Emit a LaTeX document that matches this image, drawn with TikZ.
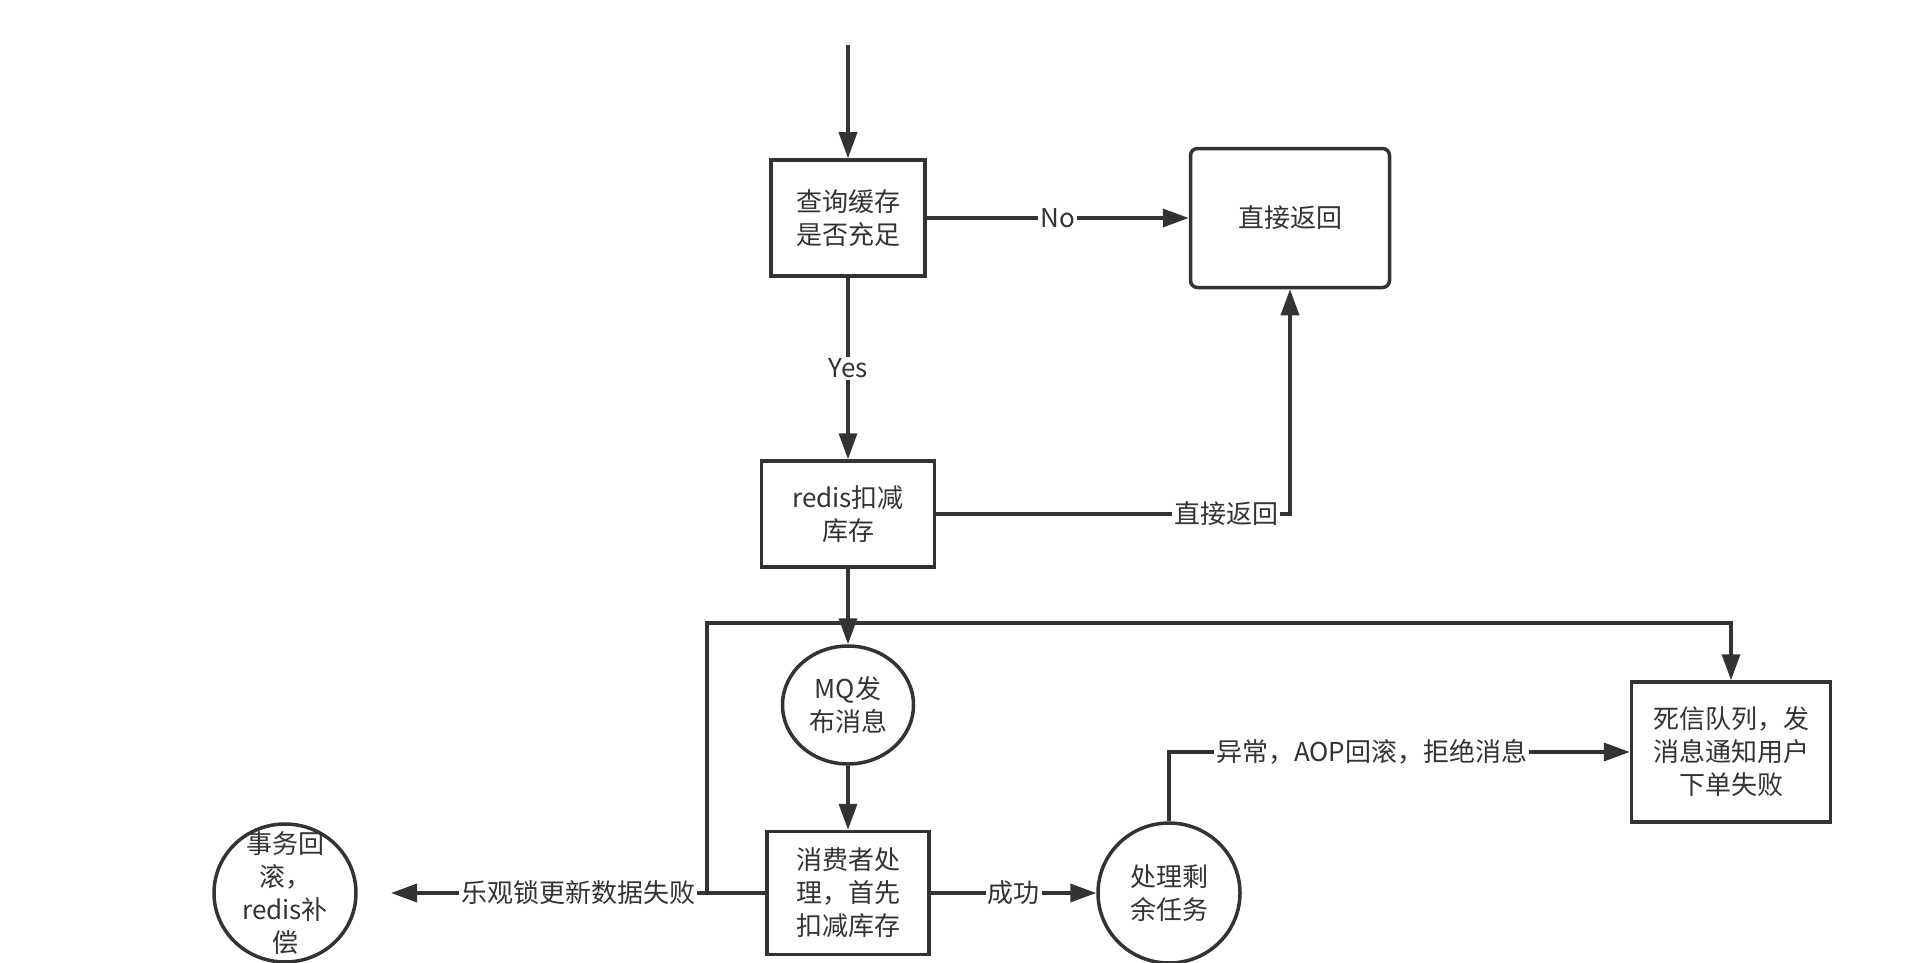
\documentclass[tikz,border=0pt]{standalone}
\usepackage{fontspec}
\setmainfont{Noto Sans CJK SC}
\usepackage{xcolor}
\usetikzlibrary{arrows.meta,shapes.geometric}
\definecolor{ink}{HTML}{333333}

\begin{document}
\begin{tikzpicture}[x=1pt,y=-1pt,font=\fontsize{26}{33}\selectfont,
  blk/.style={draw=ink,line width=3.5pt,align=center,text=ink,inner sep=0pt},
  oval/.style={ellipse,draw=ink,line width=3.5pt,align=center,text=ink,inner sep=0pt},
  arr/.style={-{Triangle[length=26pt,width=18pt]},line width=3.5pt,draw=ink},
  lbl/.style={fill=white,text=ink,inner sep=2pt}]
\useasboundingbox (0,0) rectangle (1916,963);
% main column
\coordinate (top) at (848,45);
\node[blk,minimum width=154pt,minimum height=116pt] (query) at (848,218) {查询缓存\\是否充足};
\node[blk,rounded corners=7pt,minimum width=199pt,minimum height=139pt] (ret) at (1290,218) {直接返回};
\node[blk,minimum width=173pt,minimum height=106pt] (redis) at (848,514) {redis扣减\\库存};
\node[oval,minimum width=131pt,minimum height=118pt] (mq) at (848,705) {MQ发\\布消息};
\node[blk,minimum width=162pt,minimum height=123pt] (consumer) at (848,893) {消费者处\\理，首先\\扣减库存};
% outcomes
\node[oval,minimum width=142pt,minimum height=140pt] (rest) at (1169,893) {处理剩\\余任务};
\node[blk,minimum width=199pt,minimum height=140pt] (dead) at (1731,752) {死信队列，发\\消息通知用户\\下单失败};
\node[oval,minimum width=142pt,minimum height=138pt,
  label={[align=center,text=ink]center:事务回\\滚，\\redis补\\偿}] (rollback) at (285,893) {};
\coordinate (fail) at (391,893);
\coordinate (bus) at (707,623);
% connectors
\draw[arr] (top) -- (query);
\draw[arr] (query) -- node[lbl]{No} (ret);
\draw[arr] (query) -- node[lbl]{Yes} (redis);
\draw[arr] (redis) -| node[lbl,pos=0.41]{直接返回} (ret);
\draw[arr] (redis) -- (mq);
\draw[arr] (mq) -- (consumer);
\draw[arr] (consumer) -- node[lbl]{成功} (rest);
\draw[arr] (rest) |- node[lbl,pos=0.72]{异常，AOP回滚，拒绝消息} (dead);
\draw[arr] (consumer) -- node[lbl]{乐观锁更新数据失败} (fail);
\draw[arr] (consumer) -| (bus) -| (dead);
\end{tikzpicture}
\end{document}
